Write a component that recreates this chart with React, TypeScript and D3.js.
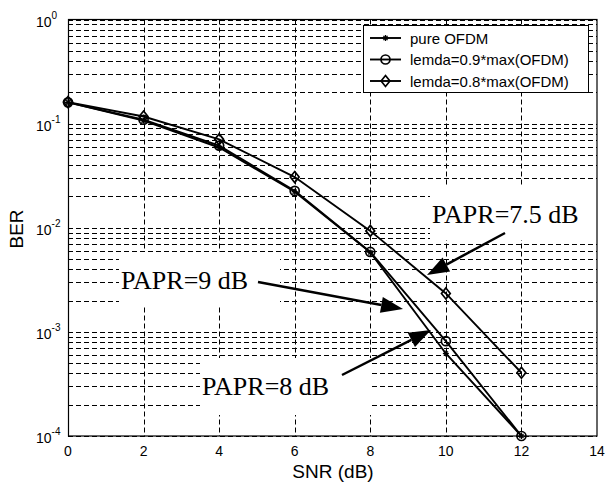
import React from "react";
import * as d3 from "d3";

const snr = [0, 2, 4, 6, 8, 10, 12];
const berPure = [0.16, 0.107, 0.059, 0.0222, 0.0058, 0.00062, 0.0001];
const berL09 = [0.16, 0.109, 0.0615, 0.0226, 0.00586, 0.000815, 0.0001];
const berL08 = [0.161, 0.117, 0.0706, 0.0307, 0.00933, 0.00234, 0.000405];
const seriesNames = ["pure OFDM", "lemda=0.9*max(OFDM)", "lemda=0.8*max(OFDM)"];
const xTicks = [0, 2, 4, 6, 8, 10, 12, 14];
const yExps = [0, -1, -2, -3, -4];
const annotations = [
  { text: "PAPR=7.5 dB", tx: 432, ty: 223, box: [430, 186, 167, 54], from: [505, 233], to: [427, 275] },
  { text: "PAPR=9 dB", tx: 121, ty: 289, box: [119, 252, 161, 53], from: [258, 282], to: [403, 309] },
  { text: "PAPR=8 dB", tx: 202, ty: 395, box: [200, 358, 172, 57], from: [342, 375], to: [431, 330] },
];

const W = 605, H = 488;
const L = 68, R = 597, T = 19.5, B = 436;

function Marker({ kind, cx, cy }: { kind: number; cx: number; cy: number }) {
  if (kind === 0) {
    const s = 3;
    return (
      <g stroke="#000" strokeWidth={1.3}>
        <line x1={cx - s} y1={cy} x2={cx + s} y2={cy} />
        <line x1={cx} y1={cy - s} x2={cx} y2={cy + s} />
        <line x1={cx - s * 0.7} y1={cy - s * 0.7} x2={cx + s * 0.7} y2={cy + s * 0.7} />
        <line x1={cx - s * 0.7} y1={cy + s * 0.7} x2={cx + s * 0.7} y2={cy - s * 0.7} />
      </g>
    );
  }
  if (kind === 1) {
    return <circle cx={cx} cy={cy} r={4.5} fill="none" stroke="#000" strokeWidth={1.7} />;
  }
  const s = 5.5;
  return (
    <path
      d={`M${cx},${cy - s}L${cx + s * 0.8},${cy}L${cx},${cy + s}L${cx - s * 0.8},${cy}Z`}
      fill="none"
      stroke="#000"
      strokeWidth={1.7}
    />
  );
}

function Arrow({ from, to }: { from: number[]; to: number[] }) {
  const [x1, y1] = from;
  const [x2, y2] = to;
  const ang = Math.atan2(y2 - y1, x2 - x1);
  const len = 22, hw = 8;
  const bx = x2 - len * Math.cos(ang), by = y2 - len * Math.sin(ang);
  const px = -Math.sin(ang) * hw, py = Math.cos(ang) * hw;
  return (
    <g>
      <line x1={x1} y1={y1} x2={bx} y2={by} stroke="#000" strokeWidth={2.5} />
      <path d={`M${x2},${y2}L${bx + px},${by + py}L${bx - px},${by - py}Z`} fill="#000" />
    </g>
  );
}

export default function App() {
  const x = d3.scaleLinear().domain([0, 14]).range([L, R]);
  const y = d3.scaleLog().domain([1e-4, 1]).range([B, T]);
  const yGrid = y.ticks();
  const series = [berPure, berL09, berL08];
  const line = d3
    .line<number>()
    .x((_, i) => x(snr[i]))
    .y((d) => y(d));
  const font = "'Liberation Sans', Arial, sans-serif";
  const serif = "'Liberation Serif', 'Times New Roman', serif";

  return (
    <svg
      width={W}
      height={H}
      style={{ position: "absolute", left: 0, top: 0, background: "#fff" }}
    >
      <rect x={0} y={0} width={W} height={H} fill="#fff" />
      <g stroke="#000" strokeWidth={1} strokeDasharray="5,3">
        {yGrid.map((v, i) => (
          <line key={"h" + i} x1={L} x2={R} y1={Math.round(y(v)) + 0.5} y2={Math.round(y(v)) + 0.5} />
        ))}
        {xTicks.slice(1, -1).map((t) => (
          <line key={"v" + t} x1={Math.round(x(t)) + 0.5} x2={Math.round(x(t)) + 0.5} y1={T} y2={B} />
        ))}
      </g>
      {annotations.map((a, i) => (
        <rect key={"b" + i} x={a.box[0]} y={a.box[1]} width={a.box[2]} height={a.box[3]} fill="#fff" />
      ))}
      {series.map((s, k) => (
        <g key={"s" + k}>
          <path d={line(s) || ""} fill="none" stroke="#000" strokeWidth={1.9} />
          {s.map((v, i) => (
            <Marker key={i} kind={k} cx={x(snr[i])} cy={y(v)} />
          ))}
        </g>
      ))}
      {annotations.map((a, i) => (
        <g key={"a" + i}>
          <text x={a.tx} y={a.ty} fontFamily={serif} fontSize={26} fill="#000">
            {a.text}
          </text>
          <Arrow from={a.from} to={a.to} />
        </g>
      ))}
      <rect x={L + 0.5} y={T} width={R - L - 0.5} height={B - T} fill="none" stroke="#000" strokeWidth={1.2} />
      {xTicks.map((t) => (
        <text key={"xt" + t} x={x(t)} y={456} textAnchor="middle" fontFamily={font} fontSize={14} fill="#000">
          {t}
        </text>
      ))}
      {yExps.map((e) => (
        <text key={"yt" + e} x={36} y={y(Math.pow(10, e)) + 7} fontFamily={font} fontSize={14} fill="#000">
          10
          <tspan fontSize={10} dy={-8}>
            {e}
          </tspan>
        </text>
      ))}
      <text x={333} y={478} textAnchor="middle" fontFamily={font} fontSize={19} fill="#000">
        SNR (dB)
      </text>
      <text
        transform={`translate(23,229) rotate(-90)`}
        textAnchor="middle"
        fontFamily={font}
        fontSize={19}
        fill="#000"
      >
        BER
      </text>
      <rect x={363.5} y={25.5} width={225} height={67} fill="#fff" stroke="#000" strokeWidth={1} />
      {seriesNames.map((n, k) => {
        const ly = 38 + k * 21.5;
        return (
          <g key={"l" + k}>
            <line x1={370} x2={401} y1={ly} y2={ly} stroke="#000" strokeWidth={1.9} />
            <Marker kind={k} cx={385.5} cy={ly} />
            <text x={410} y={ly} dominantBaseline="central" fontFamily={font} fontSize={15} fill="#000">
              {n}
            </text>
          </g>
        );
      })}
    </svg>
  );
}
